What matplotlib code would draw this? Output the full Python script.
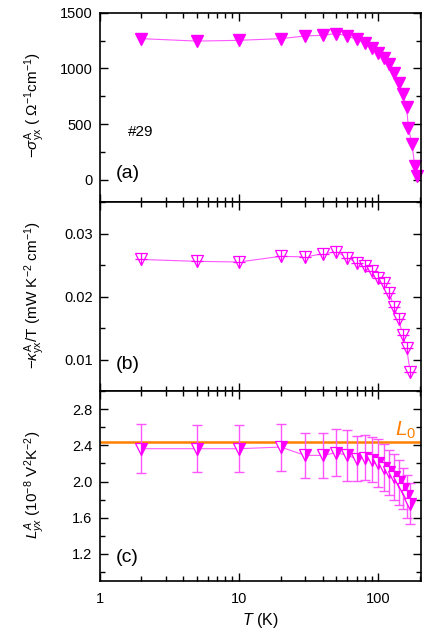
import matplotlib.pyplot as plt
import numpy as np
from matplotlib.ticker import MultipleLocator, LogLocator, NullFormatter, FixedLocator

plt.rcParams['font.family'] = ['Liberation Sans', 'DejaVu Sans']
plt.rcParams['mathtext.fontset'] = 'custom'
plt.rcParams['mathtext.rm'] = 'Liberation Sans'
plt.rcParams['mathtext.it'] = 'Liberation Sans:italic'
plt.rcParams['mathtext.bf'] = 'Liberation Sans:bold'

# Panel (a): anomalous Hall conductivity
T_a = [2, 5, 10, 20, 30, 40, 50, 60, 70, 80, 90, 100, 110, 120, 130, 140,
       150, 160, 165, 175, 183, 190]
sigma_a = [1267, 1245, 1252, 1267, 1291, 1297, 1313, 1291, 1261, 1227, 1185,
           1136, 1091, 1040, 958, 873, 773, 652, 464, 318, 125, 34]

# Panel (b): anomalous thermal Hall / T
T_b = [2, 5, 10, 20, 30, 40, 50, 60, 70, 80, 90, 100, 110, 120, 130, 140,
       150, 160, 170]
kappa_b = [0.0259, 0.0256, 0.0255, 0.0264, 0.0263, 0.0268, 0.0271, 0.0262,
           0.0254, 0.0248, 0.0240, 0.0230, 0.0221, 0.0206, 0.0184, 0.0165,
           0.0140, 0.0119, 0.0080]

# Panel (c): anomalous Lorenz ratio
T_c = T_b
L_c = [2.364, 2.364, 2.364, 2.382, 2.29, 2.29, 2.32, 2.29, 2.254, 2.265,
       2.243, 2.205, 2.154, 2.105, 2.05, 1.994, 1.92, 1.836, 1.755]
L_err = [0.27, 0.26, 0.26, 0.26, 0.25, 0.25, 0.26, 0.28, 0.25, 0.25, 0.25,
         0.27, 0.26, 0.25, 0.26, 0.25, 0.23, 0.24, 0.23]
L0 = 2.44

mag = '#ff00ff'
mag_light = '#ff55ff'
orange = '#ff8000'

fig = plt.figure(figsize=(4.36, 6.39), dpi=100)
left, right = 99.5 / 436, 421 / 436
bottom, top = 1 - 580.7 / 639, 1 - 12.7 / 639
gs = fig.add_gridspec(3, 1, left=left, right=right, bottom=bottom, top=top,
                      hspace=0)
axes = [fig.add_subplot(gs[i]) for i in range(3)]

for ax in axes:
    ax.set_xscale('log')
    ax.set_xlim(1, 203)
    ax.xaxis.set_major_locator(FixedLocator([1, 10, 100]))
    ax.xaxis.set_minor_locator(LogLocator(base=10, subs=np.arange(2, 10), numticks=20))
    ax.xaxis.set_minor_formatter(NullFormatter())
    ax.tick_params(which='both', direction='in', top=True, right=True,
                   width=1.0, labelsize=10.5, pad=5)
    ax.tick_params(axis='x', pad=8)
    ax.tick_params(which='major', length=6)
    ax.tick_params(which='minor', length=3.5)
    for s in ax.spines.values():
        s.set_linewidth(1.2)

# (a)
ax = axes[0]
ax.plot(T_a, sigma_a, '-', color=mag_light, lw=0.8, zorder=1)
ax.plot(T_a, sigma_a, 'v', color=mag, ms=8.5, mec=mag, zorder=2, clip_on=False)
ax.set_ylim(-200, 1500)
ax.yaxis.set_major_locator(FixedLocator([0, 500, 1000, 1500]))
ax.yaxis.set_minor_locator(MultipleLocator(250))
ax.tick_params(labelbottom=False)
ax.text(0.05, 0.15, '(a)', transform=ax.transAxes, fontsize=14, va='center')
ax.text(0.09, 0.37, '#29', transform=ax.transAxes, fontsize=11, va='center')

# (b)
ax = axes[1]
ax.plot(T_b, kappa_b, '-', color=mag_light, lw=0.8, zorder=1)
ax.plot(T_b, kappa_b, 'v', ms=8, mfc='white', mec=mag, mew=0.9, zorder=2)
ax.plot(T_b, kappa_b, '+', ms=9, mec=mag, mew=0.9, zorder=3)
ax.set_ylim(0.005, 0.035)
ax.yaxis.set_major_locator(FixedLocator([0.01, 0.02, 0.03]))
ax.yaxis.set_minor_locator(MultipleLocator(0.005))
ax.tick_params(labelbottom=False)
ax.text(0.05, 0.14, '(b)', transform=ax.transAxes, fontsize=14, va='center')

# (c)
ax = axes[2]
ax.axhline(L0, color=orange, lw=1.8, zorder=1)
ax.errorbar(T_c, L_c, yerr=L_err, fmt='none', ecolor=mag_light, elinewidth=1.0,
            capsize=3.5, capthick=1.0, zorder=2)
ax.plot(T_c, L_c, '-', color=mag_light, lw=0.8, zorder=3)
ax.plot(T_c, L_c, 'v', ms=8, mec=mag, mfc=mag, mfcalt='white',
        fillstyle='right', mew=0.9, zorder=4)
ax.set_ylim(0.9, 3.0)
ax.yaxis.set_major_locator(FixedLocator([1.2, 1.6, 2.0, 2.4, 2.8]))
ax.yaxis.set_minor_locator(MultipleLocator(0.2))
ax.yaxis.set_major_formatter(plt.FuncFormatter(lambda v, p: f'{v:.1f}'))
ax.set_xticklabels(['1', '10', '100'])
ax.text(0.05, 0.12, '(c)', transform=ax.transAxes, fontsize=14, va='center')
ax.text(132, 2.57, r'$L_{\mathit{0}}$', color=orange, fontsize=15, va='center')
ax.set_xlabel(r'$T$ (K)', fontsize=11.5, labelpad=4)

# y labels
fig.text(35 / 436, 1 - 105 / 639,
         r'$-\sigma^{\mathrm{A}}_{\mathrm{yx}}$ ( $\Omega^{-1}$cm$^{-1}$)',
         rotation=90, ha='center', va='center', fontsize=11)
fig.text(35 / 436, 1 - 295 / 639,
         r'$-\kappa^{\mathrm{A}}_{\mathrm{yx}}/\mathrm{T}$ (mW K$^{-2}$ cm$^{-1}$)',
         rotation=90, ha='center', va='center', fontsize=11)
fig.text(35 / 436, 1 - 485 / 639,
         r'$L^{A}_{yx}$ (10$^{-8}$ V$^{2}$K$^{-2}$)',
         rotation=90, ha='center', va='center', fontsize=11)

fig.savefig('out.png', dpi=100)
